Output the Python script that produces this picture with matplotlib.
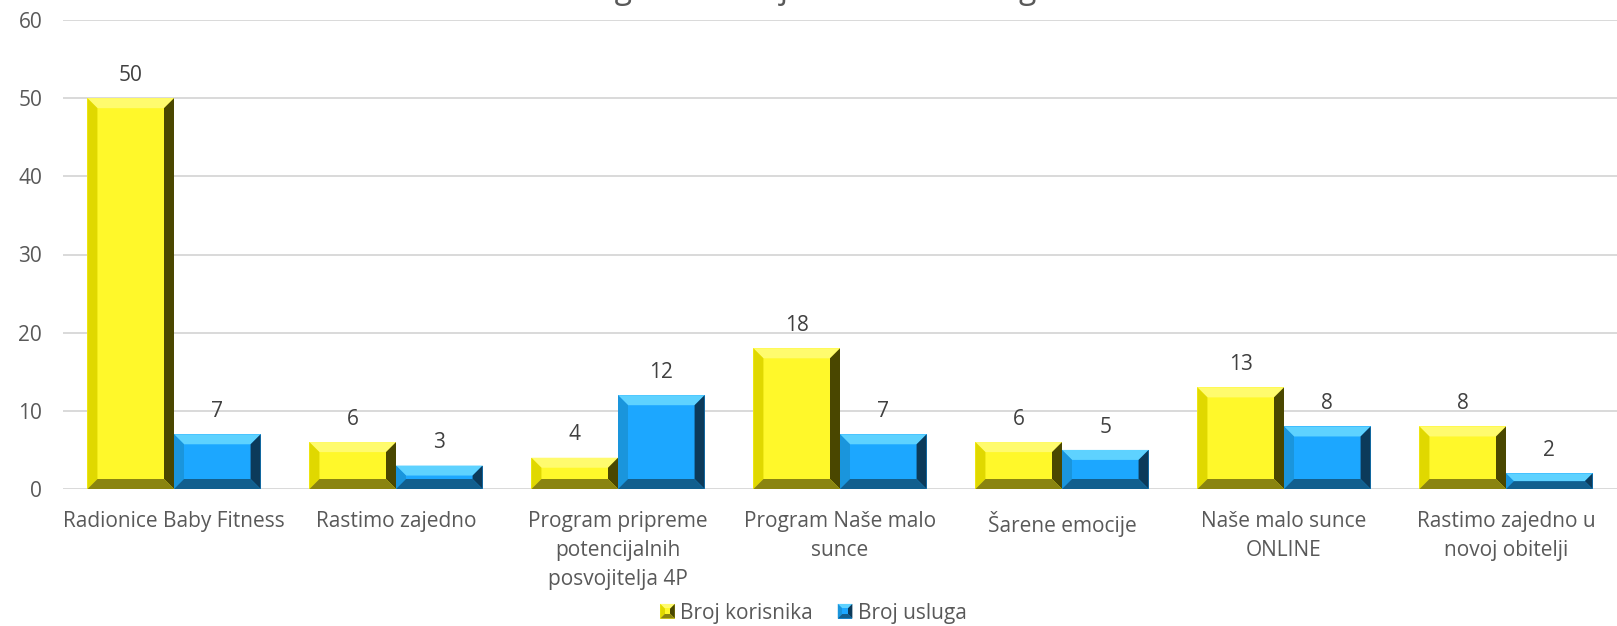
import matplotlib
matplotlib.use("Agg")
import matplotlib.pyplot as plt
from matplotlib.patches import Polygon, Rectangle
from matplotlib.legend_handler import HandlerBase
import numpy as np

plt.rcParams['font.family'] = ['Open Sans', 'DejaVu Sans']

categories = ["Radionice Baby Fitness", "Rastimo zajedno",
              "Program pripreme\npotencijalnih\nposvojitelja 4P",
              "Program Naše malo\nsunce", "Šarene emocije",
              "Naše malo sunce\nONLINE", "Rastimo zajedno u\nnovoj obitelji"]
korisnici = [50, 6, 4, 18, 6, 13, 8]
usluge = [7, 3, 12, 7, 5, 8, 2]
series_names = ["Broj korisnika", "Broj usluga"]
title = "Programi - broj korisnika i usluga"

# face, top, left, right, bottom
yellow = ["#FFF82A", "#FFFB6E", "#E0D800", "#4A4700", "#8A8410"]
blue = ["#1CA7FF", "#5ED2FF", "#1A95DC", "#0C3A5A", "#125F8E"]

fs = 15
fig = plt.figure(figsize=(16.17, 6.26), dpi=100)
ax = fig.add_axes([63 / 1617, 1 - 489 / 626, 1 - 63 / 1617, (489 - 20) / 626])

x = np.arange(len(categories))
w = 0.39
ax.set_xlim(-0.5, len(categories) - 0.5)
ax.set_ylim(0, 60)
ax.set_yticks(range(0, 61, 10))
ax.yaxis.grid(True, color="#D9D9D9", linewidth=1.4)
ax.set_axisbelow(True)
for s in ax.spines.values():
    s.set_visible(False)
ax.tick_params(axis="both", length=0, labelsize=fs, labelcolor="#595959")
ax.tick_params(axis="y", pad=15)
ax.tick_params(axis="x", pad=16)
ax.set_xticks(x)
ax.set_xticklabels(categories, linespacing=1.5, va="top")

# pixel -> data scale for bevel sizes
p0 = ax.transData.transform((0, 0))
p1 = ax.transData.transform((1, 1))
px_x = p1[0] - p0[0]
px_y = p1[1] - p0[1]
bev = 10


def bevel_bar(x0, h, cols):
    bw = w
    b = min(bev, bw * px_x / 2, h * px_y / 2)
    bx = b / px_x
    by = b / px_y
    x1 = x0 + bw
    ax.add_patch(Rectangle((x0, 0), bw, h, facecolor=cols[0], edgecolor="none"))
    ax.add_patch(Polygon([(x0, h), (x1, h), (x1 - bx, h - by), (x0 + bx, h - by)],
                         facecolor=cols[1], edgecolor="none"))
    ax.add_patch(Polygon([(x0, 0), (x0, h), (x0 + bx, h - by), (x0 + bx, by)],
                         facecolor=cols[2], edgecolor="none"))
    ax.add_patch(Polygon([(x1, 0), (x1, h), (x1 - bx, h - by), (x1 - bx, by)],
                         facecolor=cols[3], edgecolor="none"))
    ax.add_patch(Polygon([(x0, 0), (x1, 0), (x1 - bx, by), (x0 + bx, by)],
                         facecolor=cols[4], edgecolor="none"))
    ax.annotate(str(h), (x0 + bw / 2, h), xytext=(0, 12.5), textcoords="offset points",
                ha="center", va="baseline", fontsize=fs, color="#404040")


for i in range(len(categories)):
    bevel_bar(x[i] - w, korisnici[i], yellow)
    bevel_bar(x[i], usluge[i], blue)


class HandlerBevel(HandlerBase):
    def __init__(self, cols):
        super().__init__()
        self.cols = cols

    def create_artists(self, legend, orig_handle, xdescent, ydescent, width, height,
                       fontsize, trans):
        s = min(width, height)
        x0 = -xdescent + (width - s) / 2
        y0 = -ydescent + (height - s) / 2
        c = self.cols
        cx, cy = x0 + s / 2, y0 + s / 2
        pts = [(x0, y0), (x0 + s, y0), (x0 + s, y0 + s), (x0, y0 + s)]
        arts = [Rectangle((x0, y0), s, s, facecolor=c[0], edgecolor="none", transform=trans)]
        for (a, b_), col in zip([(3, 2), (0, 3), (1, 2), (0, 1)], [c[1], c[2], c[3], c[4]]):
            arts.append(Polygon([pts[a], pts[b_], (cx, cy)], facecolor=col,
                                edgecolor="none", transform=trans))
        arts.append(Rectangle((x0 + s * 0.3, y0 + s * 0.3), s * 0.4, s * 0.4,
                              facecolor=c[0], edgecolor="none", transform=trans))
        return arts


h1 = Rectangle((0, 0), 1, 1)
h2 = Rectangle((0, 0), 1, 1)
fig.legend([h1, h2], series_names, loc="center", bbox_to_anchor=(0.503, 1 - 613 / 626),
           ncol=2, frameon=False, fontsize=fs, labelcolor="#595959",
           handlelength=0.7, handleheight=0.7, handletextpad=0.25, columnspacing=1.2,
           handler_map={h1: HandlerBevel(yellow), h2: HandlerBevel(blue)})

fig.text(0.5, 1 + 2 / 626, title, ha="center", va="baseline", fontsize=23,
         color="#595959")

fig.savefig("out.png", dpi=100)
